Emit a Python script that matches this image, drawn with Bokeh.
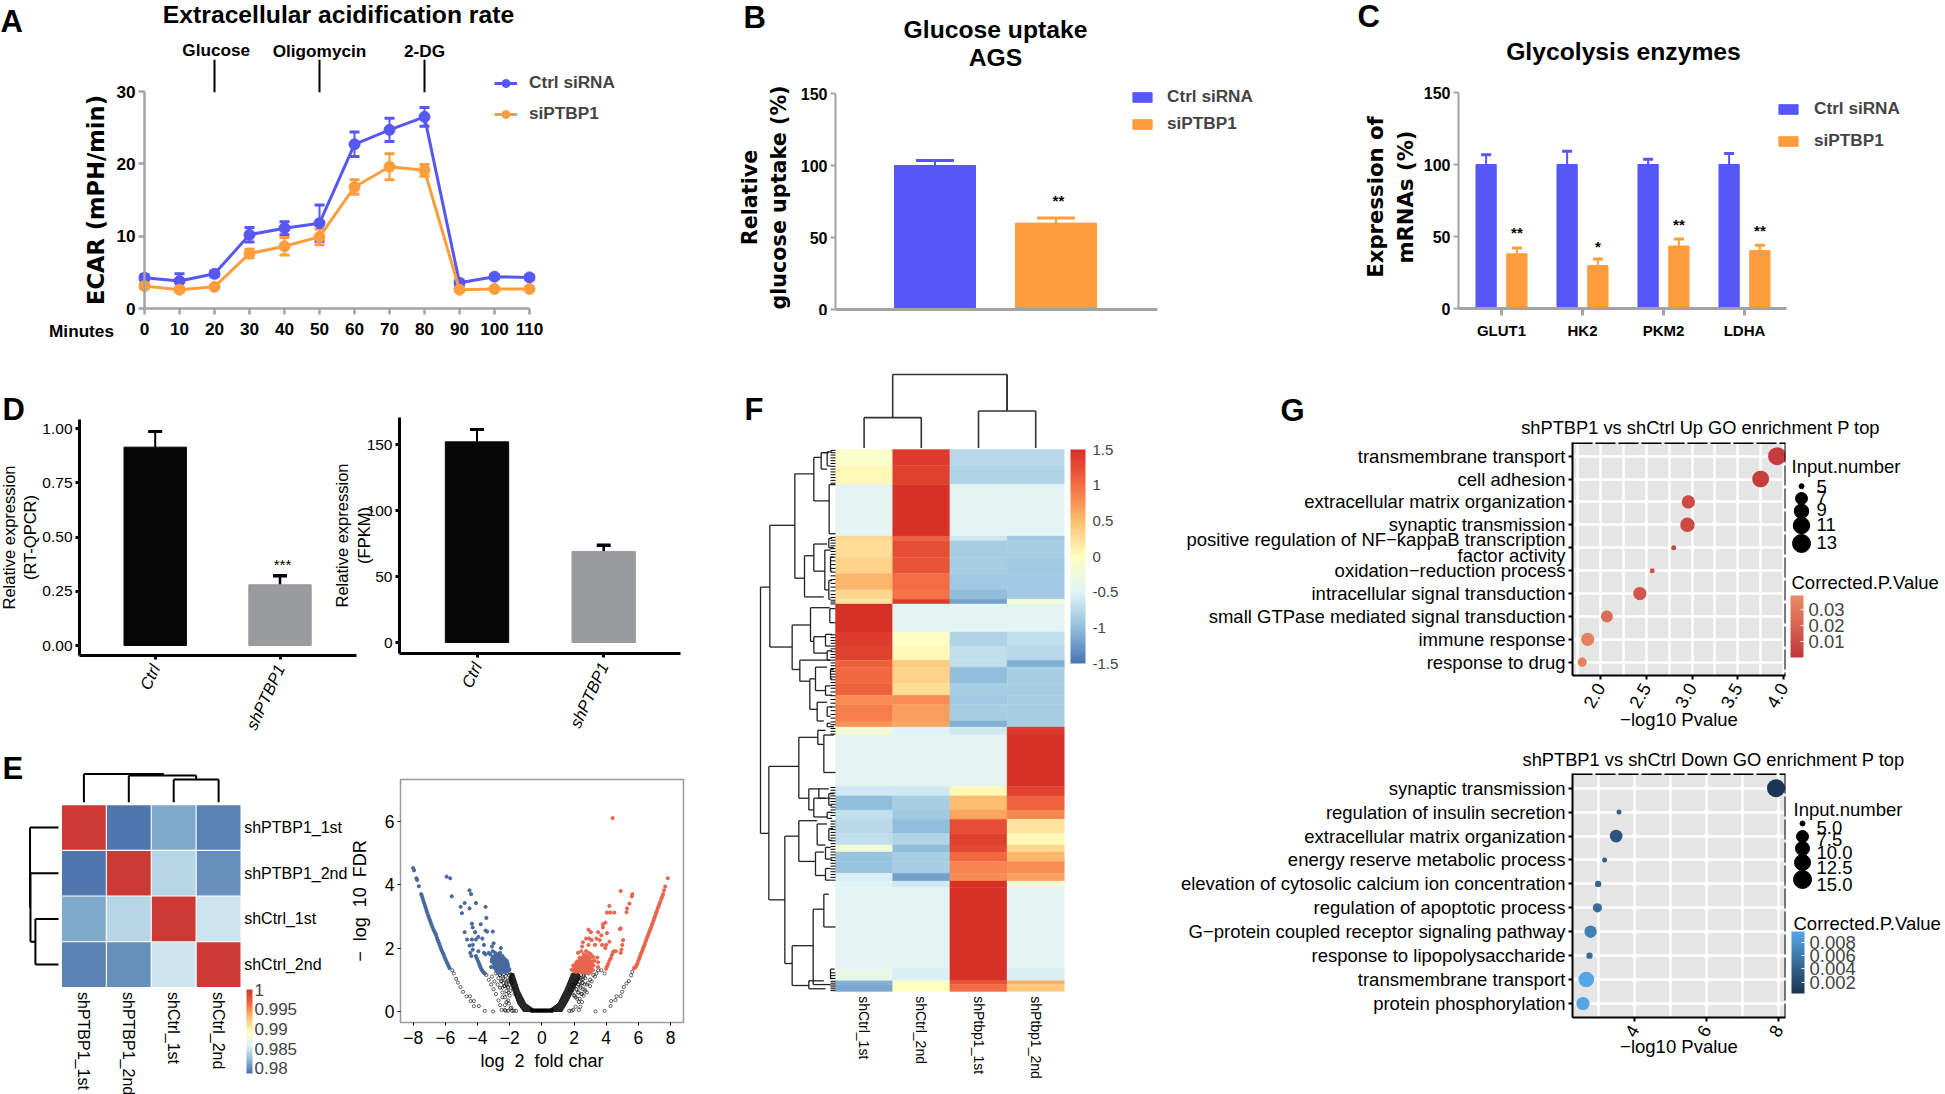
import math
import numpy as np
from bokeh.plotting import figure
from bokeh.embed import file_html
from bokeh.resources import INLINE
from bokeh.core.properties import value
from bokeh.models import (Range1d, ColumnDataSource, Whisker, TeeHead, Legend, LegendItem, FixedTicker,
                          LinearColorMapper, ColorBar, CustomJSTickFormatter, Span, Grid, AllLabels)

# ---------- DATA ----------
a_minutes = [0, 10, 20, 30, 40, 50, 60, 70, 80, 90, 100, 110]
a_ctrl = [4.25, 3.8, 4.8, 10.2, 11.1, 11.8, 22.7, 24.7, 26.5, 3.55, 4.4, 4.3]
a_si = [3.1, 2.6, 3.0, 7.6, 8.6, 9.9, 16.8, 19.6, 19.1, 2.6, 2.7, 2.7]
a_ctrl_err = [0.4, 1.0, 0.4, 1.0, 0.9, 2.5, 1.7, 1.6, 1.3, 0.4, 0.3, 0.3]
a_si_err = [0.3, 0.3, 0.2, 0.6, 1.2, 1.1, 1.0, 1.8, 0.8, 0.2, 0.2, 0.2]
a_inject_min = [20, 50, 80]
a_inject_lbl = ["Glucose", "Oligomycin", "2-DG"]

b_vals = [100, 60]
b_err_top = [103.5, 63.5]

c_genes = ["GLUT1", "HK2", "PKM2", "LDHA"]
c_ctrl = [100, 100, 100, 100]
c_ctrl_top = [106.7, 109.2, 103.7, 107.6]
c_si = [38, 29.8, 43.4, 40.2]
c_si_top = [42, 34.4, 48.2, 44]
c_stars = ["**", "*", "**", "**"]
c_star_y = [52.6, 43, 58, 54]

d_groups = ["Ctrl", "shPTBP1"]
d1_vals = [0.914, 0.28]
d1_up = [0.986, 0.322]
d1_lo = [0.914, 0.245]
d2_vals = [152, 69]
d2_up = [161.4, 73.7]
d2_lo = [152, 64.4]

e_labels_r = ["shPTBP1_1st", "shPTBP1_2nd", "shCtrl_1st", "shCtrl_2nd"]
e_matrix = [[1, 0.979, 0.9815, 0.9795],
            [0.979, 1, 0.984, 0.9802],
            [0.9815, 0.984, 1, 0.985],
            [0.9795, 0.9802, 0.985, 1]]

vb_x = [-8.00,-7.95,-7.8,-7.76,-7.65,-7.5,-7.47,-7.42,-7.37,-7.32,-7.27,-7.22,-7.17,-7.12,-7.07,-7.02,-6.97,-6.92,-6.86,-6.8,-6.74,-6.68,-6.62,-6.57,-6.52,-6.47,-6.42,-6.37,-6.32,-6.27,-6.22,-6.16,-6.1,-6.04,-5.98,-5.92,-5.86,-5.8,-5.74,
        -4.45,-4.38,-4.1,-4.05,-3.98,-3.92,-3.87,-3.82,-3.77,-3.72,-3.65,-3.6,
        -5.92,-5.7,-5.6,-4.5,-4.4,-5.05,-4.8,-4.97,-4.5,-4.1,-3.5,-3.45,-4.35,-4.3,-3.8,-3.5,-3.4,-3.05,-4.8,-4.15,-4.65,-4.35,-4.1,-3.95,-3.7,-4.5,-4.3,-3.6,-3.0,-3.1,-2.55,-4.3,-3.95,-3.6,-3.5,-3.3,
        -3.2,-3.05,-2.9,-2.75,-2.6,-2.45,-3.1,-2.95,-2.8,-2.65,-2.5,-2.35,-2.2,-3.0,-2.85,-2.7,-2.55,-2.4,-2.25,-2.1,-3.15,-2.95,-2.8,-2.6,-2.45,-2.3,-2.15,-2.05]
vb_y = [4.52,4.45,4.2,4.15,3.95,3.7,3.65,3.58,3.5,3.42,3.34,3.26,3.18,3.11,3.03,2.96,2.89,2.82,2.74,2.66,2.58,2.52,2.46,2.4,2.32,2.25,2.18,2.12,2.05,1.98,1.92,1.85,1.78,1.7,1.63,1.56,1.5,1.43,1.37,
        1.85,1.75,1.75,1.68,1.6,1.53,1.46,1.4,1.34,1.3,1.25,1.22,
        4.25,4.2,3.63,3.82,3.7,3.3,3.42,3.1,3.25,3.42,3.3,2.95,2.77,2.65,2.75,2.55,2.52,2.52,2.5,2.5,2.27,2.27,2.27,2.35,2.3,2.08,2.1,2.1,2.15,2.05,2.0,1.95,1.9,1.85,1.8,1.85,
        1.8,1.9,1.85,1.8,1.85,1.75,1.65,1.7,1.65,1.7,1.6,1.6,1.55,1.5,1.5,1.5,1.5,1.48,1.45,1.42,1.4,1.38,1.35,1.35,1.35,1.33,1.3,1.3]
vb2_x = [-3.05,-2.92,-2.78,-2.62,-2.48,-2.32,-2.18,-3.12,-2.98,-2.88,-2.72,-2.58,-2.42,-2.28,-2.12,-2.9,-2.76,-2.66,-2.52,-2.38,-2.24,-2.08,-2.84,-2.7,-2.56,-2.44,-2.3,-2.16,-2.02,-2.5,-2.35,-2.22,-2.62,-2.74]
vb2_y = [1.72,1.75,1.72,1.77,1.68,1.67,1.6,1.58,1.6,1.57,1.58,1.62,1.55,1.52,1.5,1.42,1.44,1.42,1.42,1.42,1.4,1.36,1.3,1.28,1.28,1.3,1.27,1.35,1.33,1.25,1.25,1.25,1.22,1.22]
vr_x = [7.83,7.67,7.6,7.54,7.48,7.43,7.36,7.3,7.25,7.2,7.14,7.1,7.05,7.0,6.95,6.9,6.85,6.8,6.75,6.7,6.65,6.6,6.55,6.5,6.45,6.4,6.35,6.3,6.25,6.2,6.15,6.1,6.05,6.0,5.95,5.9,5.85,5.78,5.72,
        4.4,4.9,5.63,5.6,5.45,5.3,5.27,4.2,4.05,4.25,4.5,3.95,3.8,3.8,4.9,4.85,2.9,3.05,3.5,4.05,3.7,2.75,2.95,3.1,3.4,3.6,4.2,5.05,5.0,2.55,2.5,2.9,3.3,3.75,3.95,4.0,4.95,4.9,4.6,
        4.0,4.05,4.12,4.2,4.28,4.35,4.42,4.5,
        2.25,2.45,2.6,2.75,2.9,3.05,2.35,2.55,2.7,2.85,3.0,3.2,3.45,2.2,2.4,2.55,2.7,2.85,3.0,3.15,3.5,1.95,2.1,2.3,2.45,2.6,2.75,2.9,3.05,3.5,1.85,2.0,2.2,2.35,2.55,2.7,2.85,3.0]
vr_y = [4.2,3.94,3.82,3.7,3.62,3.55,3.45,3.38,3.3,3.25,3.16,3.1,3.02,2.95,2.88,2.8,2.74,2.66,2.6,2.54,2.47,2.4,2.34,2.27,2.2,2.13,2.06,2.0,1.92,1.86,1.8,1.73,1.66,1.6,1.52,1.47,1.42,1.38,1.36,
        6.1,3.8,3.7,3.63,3.4,3.25,3.13,3.33,3.12,3.12,3.12,2.8,2.75,2.65,2.62,2.6,2.58,2.5,2.5,2.47,2.4,2.3,2.3,2.25,2.3,2.25,2.2,2.25,2.1,2.18,2.05,2.1,2.1,2.1,2.0,2.1,1.95,1.85,1.9,
        1.35,1.42,1.5,1.6,1.68,1.78,1.87,1.9,
        1.85,1.9,1.8,1.9,1.85,1.8,1.7,1.7,1.72,1.68,1.7,1.72,1.7,1.58,1.58,1.55,1.58,1.55,1.55,1.58,1.55,1.45,1.45,1.45,1.45,1.42,1.45,1.42,1.4,1.4,1.32,1.32,1.32,1.32,1.3,1.3,1.3,1.28]
vr2_x = [2.05,2.18,2.32,2.48,2.62,2.78,2.92,3.08,3.22,2.12,2.26,2.4,2.52,2.66,2.8,2.95,3.1,3.28,2.0,2.15,2.28,2.42,2.58,2.72,2.88,3.02,3.18,2.38,2.52,2.65,2.8,2.95,2.65,2.8]
vr2_y = [1.38,1.4,1.38,1.4,1.38,1.38,1.37,1.35,1.45,1.52,1.5,1.52,1.5,1.5,1.52,1.5,1.48,1.6,1.27,1.25,1.27,1.25,1.25,1.25,1.24,1.24,1.3,1.65,1.63,1.65,1.62,1.63,1.78,1.76]
vk_x = [-5.57,-5.47,-5.33,-5.22,-5.06,-4.9,-4.68,-4.47,-4.43,-4.23,-4.23,-3.92,-3.55,-3.03,
        3.34,3.9,4.27,4.31,4.58,4.64,4.89,5.0,5.1,5.26,5.41,5.55,5.62,
        -3.55,-3.45,-3.3,-3.15,-3.0,-2.85,-2.7,-2.6,-2.5,-3.1,-2.95,-2.75,-2.6,-2.45,-2.3,-2.2,-2.85,-2.7,-2.5,-2.35,-2.2,-2.6,-2.4,-2.2,-2.1,-2.45,-2.3,-2.1,-1.95,-2.3,-2.05,-1.85,
        -2.25,-2.1,-1.9,-2.0,-1.75,-1.6,
        3.9,3.7,3.5,3.4,3.3,3.1,3.0,2.8,2.6,2.5,2.4,2.3,3.2,3.0,2.8,2.65,2.5,2.35,2.9,2.7,2.55,2.4,2.25,2.1,2.6,2.45,2.3,2.15,2.3,2.1,1.95,2.0,1.85,1.7]
vk_y = [1.3,1.2,1.03,.91,.77,.62,.48,.48,.33,.33,.17,.17,.02,0,
        0,.02,.17,.33,.36,.48,.48,.62,.77,.88,.96,1.14,1.25,
        1.2,1.15,1.0,.85,.7,.55,.35,.2,.05,1.1,.95,.85,.75,.6,.45,.3,1.2,1.05,.95,.8,.65,1.15,1.05,.9,.75,.45,.2,.35,.1,.05,.25,.02,
        .02,.02,.12,.5,.02,.02,
        1.2,1.3,1.3,1.2,1.1,.95,.8,.6,.5,.3,.15,.05,1.15,1.0,.85,.7,.55,.4,1.2,1.05,.9,.75,.6,.45,1.15,1.0,.85,.7,.3,.15,.05,.5,.02,.02]
vk2_x = [-2.6,-2.45,-2.35,-2.25,-2.15,-2.05,-1.95,-2.55,-2.4,-2.28,-2.18,-2.08,-1.98,-1.88,-2.45,-2.3,-2.2,-2.1,-2.0,-1.9,-1.8,-2.2,-2.05,-1.95,-1.8,-1.7,
         2.45,2.6,2.7,2.55,2.4,2.85,2.65,2.5,2.35,2.2,2.7,2.55,2.4,2.25,2.1,2.45,2.3,2.15,2.0,1.9,2.2,2.05,1.9,1.75]
vk2_y = [1.15,1.1,1.18,1.12,1.2,1.15,1.18,.95,.9,1.0,.95,.98,1.05,1.1,.75,.8,.85,.78,.85,.9,.95,.55,.6,.65,.72,.55,
         1.15,1.1,1.2,1.02,1.05,.9,.85,.9,.95,1.0,.65,.7,.8,.85,.9,.55,.6,.7,.8,.85,.4,.5,.6,.7]
v_dense_left_x = [-0.5, -1.15, -1.5, -1.85, -2.05, -1.95, -1.75, -1.4, -1.0, -0.5]
v_dense_left_y = [0.0, 0.0, 0.25, 0.75, 1.0, 1.2, 1.2, 0.65, 0.25, 0.07]
v_dense_right_x = [0.5, 1.25, 1.6, 2.0, 2.4, 2.3, 1.85, 1.45, 1.0, 0.5]
v_dense_right_y = [0.0, 0.0, 0.3, 0.7, 1.1, 1.2, 1.2, 0.7, 0.25, 0.07]
v_base_x = [-0.7, 0.7, 0.7, -0.7]
v_base_y = [-0.02, -0.02, 0.08, 0.08]

f_cols = ["shCtrl_1st", "shCtrl_2nd", "shPtbp1_1st", "shPtbp1_2nd"]
f_edges = [190,225,265,375,385,420,455,490,510,520,580,610,640,655,690,715,735,770,783,800,910,930,960,980,1010,1035,1050,1070,1095,1112,1125,1300,1325,1333,1348]
f_c1 = [-0.1,0.05,-0.45,0.3,0.25,0.35,0.55,0.3,0.2,1.5,1.4,1.35,1.1,1.05,1.1,0.8,0.9,0.75,-0.2,-0.45,-0.6,-1.0,-0.7,-0.75,-0.7,-0.2,-0.95,-0.95,-0.55,-0.5,-0.45,-0.35,-1.1,-1.15]
f_c2 = [1.4,1.35,1.5,1.1,1.25,1.2,1.0,0.95,1.4,-0.45,-0.05,0.05,0.4,0.35,0.25,0.8,0.7,0.65,-0.5,-0.45,-0.6,-0.85,-0.9,-1.0,-0.8,-1.0,-0.85,-0.85,-1.2,-0.6,-0.45,-0.55,-0.1,0.0]
f_c3 = [-0.75,-0.8,-0.45,-0.6,-0.85,-0.85,-0.9,-1.0,-1.2,-0.45,-0.8,-0.7,-0.7,-1.0,-0.85,-0.9,-0.85,-1.1,-0.6,-0.45,0.05,0.5,0.65,1.25,1.35,1.3,1.05,0.85,0.8,1.5,1.5,1.5,1.2,1.0]
f_c4 = [-0.75,-0.8,-0.45,-0.9,-0.85,-0.9,-0.9,-0.9,-0.2,-0.45,-0.7,-0.75,-1.1,-0.85,-0.85,-0.85,-0.85,-0.85,1.4,1.5,1.35,1.1,0.85,0.2,0.05,0.3,0.55,0.8,0.7,-0.2,-0.45,-0.55,0.6,0.4]
# brackets: tree position of the join, row a, row b, tree position of child a, of child b
f_tree = [(90,484,1010,118,115),(118,352,612,193,185),(193,242,465,250,222),(250,207,300,272,296),(272,197,232,295,290),
          (296,265,370,315,315),(222,417,505,250,280),(250,392,450,290,283),(283,405,490,300,295),(185,565,660,240,208),
          (240,528,600,298,250),(250,590,625,285,290),(208,640,685,300,238),(238,680,745,255,260),(255,655,705,290,285),
          (260,730,770,290,280),(115,867,1152,205,163),(205,805,935,262,235),(262,790,820,285,280),(280,800,880,310,315),
          (235,915,960,265,250),(265,915,935,295,300),(250,935,975,285,290),(163,1016,1288,205,185),(205,983,1070,260,255),
          (260,990,1035,290,285),(255,1050,1100,280,285),(185,1250,1335,248,235),(248,1172,1333,280,300),(280,1140,1210,295,315),
          (235,1325,1342,280,285),(290,195,225,305,300),(295,380,400,305,310),(300,420,450,310,305),(295,470,510,305,300),
          (298,530,560,315,315),(285,585,610,305,300),(290,620,640,305,300),(300,660,680,310,305),(285,695,715,300,305),
          (290,740,760,305,300),(290,775,782,300,310),(295,925,950,310,305),(290,965,978,305,305),(295,1000,1025,308,305),
          (285,1040,1065,300,305),(285,1085,1110,300,300),(300,1300,1320,312,308)]
f_leaf_y = [192,197,202,208,214,220,226,232,238,244,250,256,262,378,384,390,396,402,408,414,420,428,436,444,452,460,468,476,484,492,500,506,512,516,520,
            586,592,598,604,610,616,622,628,634,640,646,652,658,664,670,676,682,688,694,700,708,716,724,732,740,748,756,764,772,778,
            786,792,798,912,918,924,930,936,942,948,954,960,966,972,984,990,996,1002,1008,1014,1020,1026,1032,1038,1044,1050,1056,1062,1068,1074,1080,1086,1092,1098,1104,1110,
            1308,1314,1320,1326,1330,1334,1338,1342,1346]
f_top_x = [0.5, 1.5, 2.5, 3.5]

g1_terms = ["transmembrane transport", "cell adhesion", "extracellular matrix organization", "synaptic transmission",
            "positive regulation of NF\u2212kappaB transcription\nfactor activity", "oxidation\u2212reduction process",
            "intracellular signal transduction", "small GTPase mediated signal transduction", "immune response", "response to drug"]
g1_x = [3.93, 3.75, 2.96, 2.95, 2.80, 2.565, 2.43, 2.07, 1.86, 1.80]
g1_n = [13, 11.5, 8, 9, 5, 5, 8, 7, 8, 6.2]
g1_p = [0.002, 0.003, 0.008, 0.008, 0.008, 0.014, 0.014, 0.024, 0.034, 0.034]
g1_leg_n = [5, 7, 9, 11, 13]
g1_leg_size = [5, 12, 14.5, 16.5, 18]
g2_terms = ["synaptic transmission", "regulation of insulin secretion", "extracellular matrix organization",
            "energy reserve metabolic process", "elevation of cytosolic calcium ion concentration",
            "regulation of apoptotic process", "G\u2212protein coupled receptor signaling pathway",
            "response to lipopolysaccharide", "transmembrane transport", "protein phosphorylation"]
g2_x = [7.93, 3.57, 3.49, 3.17, 2.99, 2.97, 2.78, 2.75, 2.66, 2.57]
g2_n = [15, 5, 8.5, 5, 5.5, 6.5, 8, 5.5, 12, 9]
g2_p = [0.0005, 0.004, 0.003, 0.004, 0.0045, 0.005, 0.0065, 0.005, 0.0095, 0.0095]
g2_leg_n = ["5.0", "7.5", "10.0", "12.5", "15.0"]
g2_leg_size = [5, 12, 14, 16, 18]

# ---------- STYLE ----------
BLUE = "#5757f5"
ORANGE = "#ff9d3c"
GRAY = "#a3a3a3"
SANS = "Liberation Sans"
roots = []


def px(v):
    return f"{v}px"


def panel(box, xmap, ymap, borders):
    L, T, R, B = box
    bl, bt, br, bb = borders
    kx = (xmap[3] - xmap[1]) / (xmap[2] - xmap[0])
    ky = (ymap[3] - ymap[1]) / (ymap[2] - ymap[0])
    p = figure(width=R - L + bl + br, height=B - T + bt + bb,
               x_range=Range1d(xmap[1] + (L - xmap[0]) * kx, xmap[1] + (R - xmap[0]) * kx),
               y_range=Range1d(ymap[1] + (B - ymap[0]) * ky, ymap[1] + (T - ymap[0]) * ky),
               toolbar_location=None, output_backend="svg",
               min_border_left=bl, min_border_right=br, min_border_top=bt, min_border_bottom=bb,
               background_fill_alpha=0, border_fill_alpha=0, outline_line_color=None,
               styles={"position": "absolute", "left": px(L - bl), "top": px(T - bt)})
    p.grid.visible = False
    roots.append(p)
    p.tags = [L, T, R, B]
    return p


def hide_axes(p):
    p.xaxis.visible = False
    p.yaxis.visible = False


def style(ax, color, lw, size, bold=True, tick=5, italic=False, standoff=4, font=SANS):
    ax.axis_line_color = color
    ax.axis_line_width = lw
    ax.major_tick_line_color = color
    ax.major_tick_line_width = lw
    ax.major_tick_out = tick
    ax.major_tick_in = 0
    ax.minor_tick_line_color = None
    ax.major_label_text_font = font
    ax.major_label_text_font_size = px(size)
    ax.major_label_text_font_style = "italic" if italic else ("bold" if bold else "normal")
    ax.major_label_text_color = "black"
    ax.major_label_standoff = standoff


def ylabel(ax, text, font, size, bold, standoff):
    ax.axis_label = text
    ax.axis_label_text_font = font
    ax.axis_label_text_font_size = px(size)
    ax.axis_label_text_font_style = "bold" if bold else "normal"
    ax.axis_label_text_color = "black"
    ax.axis_label_standoff = standoff


def legend(p, items, x_px, bottom_px, gw, gh, spacing, standoff, size):
    L, T, R, B = p.tags
    lg = Legend(items=items, location=(x_px - L, B - bottom_px), border_line_color=None,
                background_fill_alpha=0, padding=0, margin=0, spacing=spacing,
                glyph_width=gw, glyph_height=gh, label_standoff=standoff, label_height=gh,
                label_text_font=SANS, label_text_font_size=px(size), label_text_font_style="bold")
    p.add_layout(lg)


def whisk(p, x, up, lo, color, lw, head, lower=True):
    src = ColumnDataSource(dict(x=x, up=up, lo=lo))
    p.add_layout(Whisker(source=src, base="x", upper="up", lower="lo", line_color=color, line_width=lw,
                         upper_head=TeeHead(size=head, line_color=color, line_width=lw + 1),
                         lower_head=TeeHead(size=head, line_color=color, line_width=lw + 1) if lower else None))


def gradient(anchors, n=256):
    rgb = np.array([[int(c[i:i + 2], 16) for i in (1, 3, 5)] for c in anchors], float)
    t_ = np.linspace(0, len(anchors) - 1, n)
    out = []
    for v in t_:
        out.append("#%02x%02x%02x" % tuple(int(round(np.interp(v, range(len(anchors)), rgb[:, k]))) for k in range(3)))
    return out


def colorbar(p, mapper, left, top, width, height, ticks, size, tick_color=None, standoff=5):
    L, T, R, B = p.tags
    cb = ColorBar(color_mapper=mapper, location=(left - L, B - (top + height)), width=width, height=height,
                  padding=0, margin=0, ticker=FixedTicker(ticks=sorted(ticks)),
                  formatter=CustomJSTickFormatter(code="return tick.toString()"),
                  major_label_policy=AllLabels(),
                  major_label_text_font=SANS, major_label_text_font_size=px(size),
                  major_tick_line_color=tick_color, minor_tick_line_color=None, bar_line_color=None,
                  major_tick_in=3, label_standoff=standoff, background_fill_alpha=0, border_line_color=None)
    p.add_layout(cb)


# ---------- PAGE LAYER: panel letters and free texts ----------
page = figure(width=1945, height=1094, x_range=Range1d(0, 1945), y_range=Range1d(1094, 0),
              toolbar_location=None, output_backend="svg", min_border=0, outline_line_color=None,
              styles={"position": "absolute", "left": "0px", "top": "0px"})
page.axis.visible = False
page.grid.visible = False
roots.append(page)


def t(txt, x, y, size, style_="normal", align="left", font=SANS, angle=0.0):
    page.text(x=[x], y=[y], text=[txt], text_font=value(font), text_font_size=value(px(size)),
              text_font_style=style_, text_align=align, text_baseline="middle", text_color="black", angle=angle)


for letter, lx, ly in zip("ABCDEFG", [0, 743, 1357, 2, 2, 744, 1280], [21, 17, 16, 409, 768, 409, 410]):
    t(letter, lx, ly, 31, "bold")
t("Extracellular acidification rate", 338, 14, 24.7, "bold", "center")
t("Minutes", 81, 330, 17.2, "bold", "center")
t("Glucose uptake", 995, 29, 24.7, "bold", "center")
t("AGS", 995, 57, 24.7, "bold", "center")
t("Glycolysis enzymes", 1623, 51, 24.7, "bold", "center")
t("shPTBP1 vs shCtrl Up GO enrichment P top", 1700, 427, 18.3, "normal", "center")
t("shPTBP1 vs shCtrl Down GO enrichment P top", 1713, 759, 18.3, "normal", "center")
t("Input.number", 1791, 466, 18.5)
t("Corrected.P.Value", 1791, 582, 18.5)
t("Input.number", 1793, 809, 18.5)
t("Corrected.P.Value", 1793, 923, 18.5)
g1_leg_cy = [485.7, 498, 510.7, 525, 543]
g1_leg_ty = [485.7, 497, 509, 524, 542]
g2_leg_cy = [823, 836, 848, 862, 879]
g2_leg_ty = [827, 839, 852, 867, 884]
page.scatter(x=[1801] * 5, y=g1_leg_cy, size=g1_leg_size, color="black")
page.scatter(x=[1802] * 5, y=g2_leg_cy, size=g2_leg_size, color="black")
for n, y in zip(g1_leg_n, g1_leg_ty):
    t(str(n), 1816, y, 18.5)
for n, y in zip(g2_leg_n, g2_leg_ty):
    t(n, 1816, y, 18.5)

# ---------- A ----------
pa = panel((70, 20, 690, 345), (144, 0, 529, 110), (308, 0, 91, 30), (60, 5, 10, 5))
line1 = pa.line(a_minutes, a_ctrl, color=BLUE, line_width=3)
dot1 = pa.scatter(a_minutes, a_ctrl, size=11, color=BLUE)
line2 = pa.line(a_minutes, a_si, color=ORANGE, line_width=3)
dot2 = pa.scatter(a_minutes, a_si, size=11, color=ORANGE)
whisk(pa, a_minutes, [v + e for v, e in zip(a_ctrl, a_ctrl_err)], [v - e for v, e in zip(a_ctrl, a_ctrl_err)], BLUE, 2, 10)
whisk(pa, a_minutes, [v + e for v, e in zip(a_si, a_si_err)], [v - e for v, e in zip(a_si, a_si_err)], ORANGE, 2, 10)
pa.segment(a_inject_min, [29.9] * 3, a_inject_min, [34.4] * 3, color="black", line_width=2)
pa.text([20.5, 50, 80], [34.35, 34.25, 34.25], text=a_inject_lbl, text_align="center", text_baseline="bottom",
        text_font=value(SANS), text_font_style="bold", text_font_size="17.2px")
pa.xaxis.fixed_location = 0
pa.yaxis.fixed_location = 0
style(pa.xaxis[0], GRAY, 2.5, 17.2, tick=6, standoff=8)
style(pa.yaxis[0], GRAY, 2.5, 17.2, tick=6, standoff=3)
pa.xaxis.ticker = FixedTicker(ticks=a_minutes)
pa.yaxis.ticker = FixedTicker(ticks=[0, 10, 20, 30])
pa.xaxis.bounds = (0, 110)
pa.yaxis.bounds = (0, 30)
ylabel(pa.yaxis[0], "ECAR (mPH/min)", "DejaVu Sans", 22.6, True, 4)
legend(pa, [LegendItem(label="Ctrl siRNA", renderers=[line1, dot1]), LegendItem(label="siPTBP1", renderers=[line2, dot2])],
       494, 124, 23, 20, 10, 12, 17.2)

# ---------- B ----------
pb = panel((835, 85, 1260, 309), (934.5, 0, 1055.5, 1), (309, 0, 93, 150), (130, 5, 5, 6))
b1 = pb.vbar(x=[0], top=b_vals[0], width=0.67, color=BLUE)
b2 = pb.vbar(x=[1], top=b_vals[1], width=0.67, color=ORANGE)
whisk(pb, [0], [b_err_top[0]], [b_vals[0]], BLUE, 2, 38, lower=False)
whisk(pb, [1], [b_err_top[1]], [b_vals[1]], ORANGE, 2, 38, lower=False)
pb.text([1.02], [75.5], text=["**"], text_align="center", text_baseline="middle", text_font=value(SANS),
        text_font_style="bold", text_font_size="15px")
style(pb.xaxis[0], GRAY, 3, 14, tick=0)
style(pb.yaxis[0], GRAY, 2, 16, tick=5, standoff=3)
pb.xaxis.ticker = FixedTicker(ticks=[])
pb.yaxis.ticker = FixedTicker(ticks=[0, 50, 100, 150])
pb.xaxis.bounds = (-0.82, 1.84)
pb.yaxis.bounds = (0, 150)
ylabel(pb.yaxis[0], "Relative\nglucose uptake (%)", "DejaVu Sans", 20.7, True, 7)
legend(pb, [LegendItem(label="Ctrl siRNA", renderers=[b1]), LegendItem(label="siPTBP1", renderers=[b2])],
       1130, 134, 24, 12, 6, 13, 17.2)

# ---------- C ----------
pc = panel((1458, 85, 1930, 308), (1501, 0, 1582, 1), (308, 0, 92, 150), (130, 5, 5, 40))
xs = list(range(4))
c1 = pc.vbar(x=[i - 0.19 for i in xs], top=c_ctrl, width=0.25, color=BLUE)
c2 = pc.vbar(x=[i + 0.19 for i in xs], top=c_si, width=0.25, color=ORANGE)
whisk(pc, [i - 0.19 for i in xs], c_ctrl_top, c_ctrl, BLUE, 2, 10, lower=False)
whisk(pc, [i + 0.19 for i in xs], c_si_top, c_si, ORANGE, 2, 10, lower=False)
pc.text([i + 0.19 for i in xs], c_star_y, text=c_stars, text_align="center", text_baseline="middle",
        text_font=value(SANS), text_font_style="bold", text_font_size="15px")
style(pc.xaxis[0], GRAY, 3, 15, tick=7, standoff=6)
style(pc.yaxis[0], GRAY, 2, 16, tick=5, standoff=3)
pc.xaxis.ticker = FixedTicker(ticks=xs)
pc.xaxis.major_label_overrides = {i: g for i, g in enumerate(c_genes)}
pc.yaxis.ticker = FixedTicker(ticks=[0, 50, 100, 150])
pc.xaxis.bounds = (-0.53, 3.52)
pc.yaxis.bounds = (0, 150)
ylabel(pc.yaxis[0], "Expression of\nmRNAs (%)", "DejaVu Sans", 21.2, True, 3)
legend(pc, [LegendItem(label="Ctrl siRNA", renderers=[c1]), LegendItem(label="siPTBP1", renderers=[c2])],
       1776, 151, 24, 12, 11, 14, 17.2)

# ---------- D ----------
for vals, up, lo, box, ymap, yt, fmt, lab, stars, first, star_y in [
    (d1_vals, d1_up, d1_lo, (79, 419, 356, 655), (645, 0, 428, 1.0), [0, .25, .5, .75, 1.0],
     {0: "0.00", 0.25: "0.25", 0.5: "0.50", 0.75: "0.75", 1: "1.00"}, "Relative expression\n(RT-QPCR)", "***", True, 0.375),
    (d2_vals, d2_up, d2_lo, (399, 417, 680, 653), (642, 0, 444, 150), [0, 50, 100, 150],
     {0: "0", 50: "50", 100: "100", 150: "150"}, "Relative expression\n(FPKM)", "", False, 0)]:
    xm = (154.7, 0, 279.5, 1) if first else (476.5, 0, 603.2, 1)
    pd_ = panel(box, xm, ymap, (110, 3, 5, 90))
    pd_.vbar(x=[0, 1], top=vals, width=0.5, color=["#060606", "#9a9b9d"])
    whisk(pd_, [0], [up[0]], [lo[0]], "black", 2, 14, lower=False)
    whisk(pd_, [1], [up[1]], [lo[1]], "black", 2.5, 14)
    if stars:
        pd_.text([1.02], [star_y], text=[stars], text_align="center", text_baseline="middle",
                 text_font=value(SANS), text_font_size="15px")
    style(pd_.xaxis[0], "black", 3, 16.5, bold=False, tick=4, italic=True, standoff=6)
    style(pd_.yaxis[0], "black", 3, 15.5, bold=False, tick=4, standoff=3)
    pd_.xaxis.ticker = FixedTicker(ticks=[0, 1])
    pd_.xaxis.major_label_overrides = {i: g for i, g in enumerate(d_groups)}
    pd_.xaxis.major_label_orientation = math.radians(65)
    pd_.yaxis.ticker = FixedTicker(ticks=yt)
    pd_.yaxis.major_label_overrides = fmt
    ylabel(pd_.yaxis[0], lab, SANS, 16.5, False, 0 if first else -9)

# ---------- E heat map ----------
e_pal = gradient(["#4a72aa", "#8fbad6", "#e0f1f6", "#ffffbf", "#fdbe70", "#f2693f", "#cb3a35"])
e_map = LinearColorMapper(palette=e_pal, low=0.9787, high=1.0)
pe = panel((5, 770, 390, 1094), (83.4, 0, 128.3, 1), (827, 0, 872.7, 1), (0, 0, 0, 0))
hide_axes(pe)
ex, ey, ev = [], [], []
for r, row in enumerate(e_matrix):
    for c, v in enumerate(row):
        ex.append(c); ey.append(r); ev.append(v)
pe.rect(x="x", y="y", width=0.975, height=0.975, source=ColumnDataSource(dict(x=ex, y=ey, v=ev)),
        fill_color={"field": "v", "transform": e_map}, line_color=None)
pe.text([3.57] * 4, [0, 1, 2, 3], text=e_labels_r, text_baseline="middle", text_font=value(SANS), text_font_size="16px")
pe.text([0, 1, 2, 3], [3.6] * 4, text=e_labels_r, angle=-math.pi / 2, text_baseline="middle", text_align="left",
        text_font=value(SANS), text_font_size="16px")
pe.segment([0, 1, 2, 3, 2.5, 2, 1, 0], [-.55, -.55, -.55, -.55, -1.05, -1.05, -1.14, -1.17],
           [0, 1, 2, 3, 2.5, 3, 2.5, 1.78], [-1.17, -1.14, -1.05, -1.05, -1.14, -1.05, -1.14, -1.17],
           color="black", line_width=2)
pe.segment([-0.566, -0.566, -0.566, -0.566, -1.08, -1.08, -1.19, -1.2],
           [0, 1, 2, 3, 2, 2.5, 1, 0],
           [-1.2, -1.19, -1.08, -1.08, -1.08, -1.19, -1.19, -1.2],
           [0, 1, 2, 3, 3, 2.5, 2.5, 1.75], color="black", line_width=2)
colorbar(pe, e_map, 246, 989, 6, 84, [1, 0.995, 0.99, 0.985, 0.98], 17, None, 2)

# ---------- E volcano ----------
pv = panel((400, 779, 683, 1022), (412.7, -8, 670, 8), (1011, 0, 820.7, 6), (60, 2, 2, 60))
pv.outline_line_color = "#9a9a9a"
pv.outline_line_width = 1.5
pv.patch(v_dense_left_x, v_dense_left_y, color="#111111", alpha=0.9)
pv.patch(v_dense_right_x, v_dense_right_y, color="#111111", alpha=0.9)
pv.patch(v_base_x, v_base_y, color="black")
pv.scatter(vk_x, vk_y, size=3.2, fill_color=None, line_color="black", line_width=0.6)
pv.scatter(vk2_x, vk2_y, size=3.2, fill_color=None, line_color="black", line_width=0.5)
pv.scatter(vb_x, vb_y, size=3.2, color="#48699e")
pv.scatter(vb2_x, vb2_y, size=3.2, color="#48699e")
pv.scatter(vr_x, vr_y, size=3.2, color="#e8654f")
pv.scatter(vr2_x, vr2_y, size=3.2, color="#e8654f")
style(pv.xaxis[0], "black", 1, 17.5, bold=False, tick=3, standoff=5)
style(pv.yaxis[0], "black", 1, 17.5, bold=False, tick=3, standoff=3)
pv.xaxis.axis_line_color = None
pv.yaxis.axis_line_color = None
pv.xaxis.ticker = FixedTicker(ticks=[-8, -6, -4, -2, 0, 2, 4, 6, 8])
pv.yaxis.ticker = FixedTicker(ticks=[0, 2, 4, 6])
ylabel(pv.xaxis[0], "log\u00a0\u00a02\u00a0\u00a0fold char", SANS, 18, False, 4)
ylabel(pv.yaxis[0], "\u2212\u00a0\u00a0log\u00a0\u00a010\u00a0\u00a0FDR", SANS, 18, False, 12)

# ---------- F ----------
f_pal = gradient(["#4575b4", "#91bfdb", "#e0f3f8", "#ffffbf", "#fdbe70", "#f46d43", "#d73027"])
f_map = LinearColorMapper(palette=f_pal, low=-1.5, high=1.5)
pf = panel((740, 370, 1150, 1094), (835, 0, 1063.8, 4), (360, 0, 360 + 1000 / 2.136, 1000), (0, 0, 0, 0))
hide_axes(pf)
fl, fr, ft, fb, fv = [], [], [], [], []
for ci, col in enumerate([f_c1, f_c2, f_c3, f_c4]):
    for i, v in enumerate(col):
        fl.append(ci); fr.append(ci + 1); ft.append(f_edges[i]); fb.append(f_edges[i + 1]); fv.append(v)
pf.quad(left="l", right="r", top="t", bottom="b", source=ColumnDataSource(dict(l=fl, r=fr, t=ft, b=fb, v=fv)),
        fill_color={"field": "v", "transform": f_map}, line_color={"field": "v", "transform": f_map}, line_width=0.4)
tree_x = lambda z: (z - 315) / 3 / 57.2
sx0, sy0, sx1, sy1 = [], [], [], []
for z, a, b, za, zb in f_tree:
    sx0 += [tree_x(z), tree_x(z), tree_x(z)]
    sy0 += [a, a, b]
    sx1 += [tree_x(z), tree_x(za), tree_x(zb)]
    sy1 += [b, a, b]
pf.segment(sx0, sy0, sx1, sy1, color="#222222", line_width=1.3)
pf.segment([tree_x(300)] * len(f_leaf_y), f_leaf_y, [tree_x(315)] * len(f_leaf_y), f_leaf_y, color="black", line_width=1)
pf.segment([f_top_x[0], f_top_x[0], f_top_x[1], f_top_x[2], f_top_x[2], f_top_x[3], 1.0, 1.0, 3.0, 3.0],
           [187, 122, 187, 187, 108, 187, 122, 30, 108, 30],
           [f_top_x[0], f_top_x[1], f_top_x[1], f_top_x[2], f_top_x[3], f_top_x[3], 1.0, 3.0, 3.0, 3.0],
           [122, 122, 122, 108, 108, 108, 30, 30, 30, 108], color="#333333", line_width=1.6)
pf.text(f_top_x, [1358] * 4, text=f_cols, angle=-math.pi / 2, text_baseline="middle", text_align="left",
        text_font=value(SANS), text_font_size="14px")
colorbar(pf, f_map, 1070, 449, 15, 214, [1.5, 1, 0.5, 0, -0.5, -1, -1.5], 15, None, 7)

# ---------- G ----------
for terms, gx, gn, gp, box, xm, ym, ticks, gridx, anchors, lo, hi, cb_box, cb_ticks, leg_n, leg_s, xfmt, std in [
    (g1_terms, g1_x, g1_n, g1_p, (1572, 442, 1785, 675), (1600, 2.0, 1691.5, 3.0), (455.7, 0, 661.7, 9),
     [2.0, 2.5, 3.0, 3.5, 4.0], [1.75, 2.0, 2.25, 2.5, 2.75, 3.0, 3.25, 3.5, 3.75, 4.0],
     ["#c4373b", "#ea8d66"], 0.0, 0.0387, (1790, 595, 13, 62), [0.01, 0.02, 0.03], g1_leg_n, g1_leg_size,
     {2.0: "2.0", 2.5: "2.5", 3.0: "3.0", 3.5: "3.5", 4.0: "4.0"}, -7),
    (g2_terms, g2_x, g2_n, g2_p, (1572, 773, 1785, 1017), (1634, 4, 1706, 6), (787.7, 0, 1003, 9),
     [4, 6, 8], [3, 4, 5, 6, 7, 8],
     ["#1a3350", "#56a6e6"], 0.0003, 0.0096, (1791, 931, 13, 62), [0.002, 0.004, 0.006, 0.008],
     [5, 7.5, 10, 12.5, 15], g2_leg_size, {4: "4", 6: "6", 8: "8"}, -9)]:
    pg = panel(box, xm, ym, (420, 2, 150, 62))
    pg.background_fill_color = "#e5e5e5"
    pg.background_fill_alpha = 1.0
    g_map = LinearColorMapper(palette=gradient(anchors), low=lo, high=hi)
    pg.add_layout(Grid(dimension=0, ticker=FixedTicker(ticks=gridx), grid_line_color="white", grid_line_width=2.5))
    pg.add_layout(Grid(dimension=1, ticker=FixedTicker(ticks=list(range(10))), grid_line_color="white", grid_line_width=2.5))
    sizes = np.interp(gn, leg_n, leg_s)
    pg.scatter("x", "y", size="s", source=ColumnDataSource(dict(x=gx, y=list(range(10)), s=sizes, p=gp)),
               fill_color={"field": "p", "transform": g_map}, line_color=None)
    style(pg.xaxis[0], "black", 2, 18, bold=False, tick=4, standoff=5)
    style(pg.yaxis[0], "black", 2, 18.5, bold=False, tick=4, standoff=3)
    pg.xaxis.ticker = FixedTicker(ticks=ticks)
    pg.xaxis.major_label_overrides = xfmt
    pg.xaxis.major_label_orientation = math.radians(60)
    pg.yaxis.ticker = FixedTicker(ticks=list(range(10)))
    pg.yaxis.major_label_overrides = {i: s for i, s in enumerate(terms)}
    pg.yaxis.major_label_text_line_height = 0.78
    ylabel(pg.xaxis[0], "\u2212log10 Pvalue", SANS, 18.5, False, std)
    pg.add_layout(Span(location=pg.y_range.end, dimension="width", line_color="black", line_width=3, line_dash="20 3"))
    pg.add_layout(Span(location=pg.x_range.end, dimension="height", line_color="black", line_width=2, line_dash="20 3"))
    colorbar(pg, g_map, cb_box[0], cb_box[1], cb_box[2], cb_box[3], cb_ticks, 18.5, "white")

open("out.html", "w").write(file_html(roots, INLINE))
